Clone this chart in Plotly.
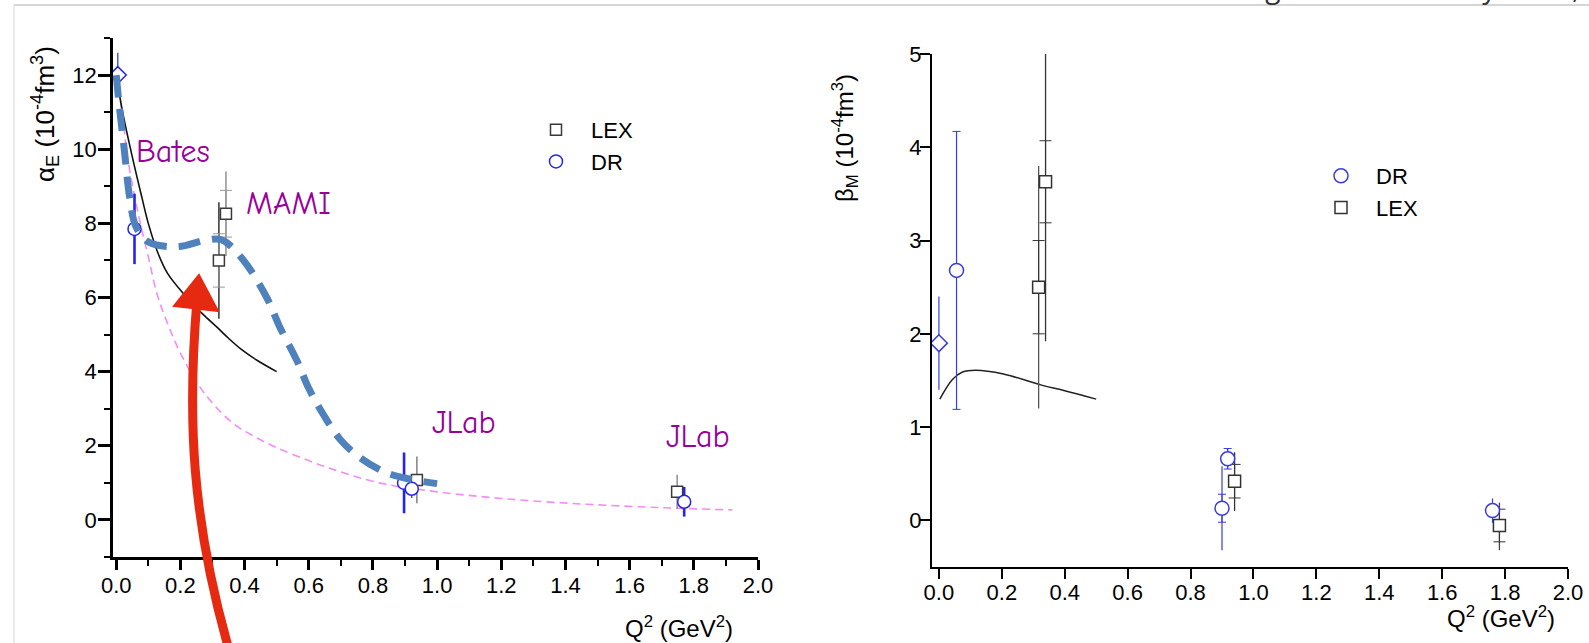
import plotly.graph_objects as go

W, H = 1589, 643

# ---------------- left panel: alpha_E(Q^2) ----------------
# dispersion-relation (DR) extractions
dr_a_q2 = [0.057, 0.897, 0.921, 1.77]
dr_alpha = [7.85, 1.00, 0.84, 0.49]
dr_alpha_err = [0.95, 0.82, 0.25, 0.40]

# low-energy-expansion (LEX) extractions
lex_a_q2 = [0.320, 0.342, 0.937, 1.748]
lex_alpha = [7.00, 8.26, 1.08, 0.76]
lex_alpha_tot = [1.57, 1.14, 0.63, 0.46]
lex_alpha_stat = [0.72, 0.63, 0.0, 0.0]

# real Compton scattering point
rcs_a_q2 = [0.005]
rcs_alpha = [12.0]
rcs_alpha_err = [0.6]

# model curves
curve_a_q2 = [0.0, 0.02, 0.05, 0.08, 0.10, 0.13, 0.16, 0.215, 0.27, 0.314, 0.35, 0.39, 0.44, 0.50]
curve_alpha = [12.0, 11.0, 9.8, 8.7, 8.0, 7.2, 6.65, 6.05, 5.55, 5.2, 4.9, 4.6, 4.3, 4.0]

dipole_q2 = [0.0, 0.02, 0.035, 0.07, 0.10, 0.127, 0.16, 0.20, 0.252, 0.30, 0.365, 0.43, 0.50,
             0.60, 0.68, 0.82, 0.99, 1.20, 1.45, 1.70, 1.92]
dipole_alpha = [12.0, 10.9, 9.8, 8.2, 7.1, 6.1, 5.3, 4.5, 3.7, 3.15, 2.6, 2.25, 1.95,
                1.6, 1.35, 1.0, 0.77, 0.58, 0.43, 0.33, 0.27]

trend_q2 = [0.0, 0.008, 0.025, 0.042, 0.062, 0.10, 0.19, 0.28, 0.33, 0.397, 0.469, 0.51,
            0.563, 0.60, 0.645, 0.70, 0.76, 0.84, 0.916, 1.0]
trend_alpha = [12.0, 11.3, 10.0, 8.7, 7.9, 7.5, 7.37, 7.55, 7.55, 7.0, 6.0, 5.2,
               4.3, 3.55, 2.85, 2.15, 1.68, 1.28, 1.1, 0.98]

# ---------------- right panel: beta_M(Q^2) ----------------
dr_b_q2 = [0.056, 0.900, 0.918, 1.760]
dr_beta = [2.68, 0.13, 0.66, 0.105]
dr_beta_tot = [1.49, 0.45, 0.11, 0.13]
dr_beta_stat = [1.49, 0.15, 0.11, 0.0]

lex_b_q2 = [0.317, 0.339, 0.940, 1.782]
lex_beta = [2.50, 3.63, 0.42, -0.055]
lex_beta_tot_plus = [1.30, 1.37, 0.31, 0.245]
lex_beta_tot_minus = [1.30, 1.71, 0.32, 0.265]
lex_beta_stat = [0.50, 0.44, 0.18, 0.175]

rcs_b_q2 = [0.0]
rcs_beta = [1.90]
rcs_beta_err = [0.5]

curve_b_q2 = [0.003, 0.043, 0.075, 0.116, 0.205, 0.326, 0.40, 0.50]
curve_beta = [1.30, 1.51, 1.59, 1.61, 1.57, 1.45, 1.39, 1.30]

# per-point bar styles
dr_a_bar_width = [2.6, 2.6, 1.2, 2.6]
lex_a_bar_color = ["#222222", "#888888", "#777777", "#888888"]
lex_b_bar_color = ["#555555", "#333333", "#333333", "#444444"]

BLUE = "#2424f0"
BLUE_R = "#3b3be0"
FONT = "Liberation Sans, Arial, sans-serif"

fig = go.Figure()


def bar(x, y, plus, minus, color, thick, cap, xa, ya):
    fig.add_trace(go.Scatter(
        x=[x], y=[y], mode="markers", marker=dict(size=1, opacity=0),
        error_y=dict(type="data", symmetric=False, array=[plus], arrayminus=[minus],
                     color=color, thickness=thick, width=cap),
        xaxis=xa, yaxis=ya, showlegend=False, hoverinfo="skip"))


# --- left curves ---
fig.add_trace(go.Scatter(x=dipole_q2, y=dipole_alpha, mode="lines", line_shape="spline",
                         line=dict(color="#f58cf5", width=1.6, dash="8px,5px"),
                         showlegend=False, xaxis="x", yaxis="y"))
fig.add_trace(go.Scatter(x=curve_a_q2, y=curve_alpha, mode="lines", line_shape="spline",
                         line=dict(color="#111111", width=1.6),
                         showlegend=False, xaxis="x", yaxis="y"))

# --- left error bars ---
for i in range(len(lex_a_q2)):
    bar(lex_a_q2[i], lex_alpha[i], lex_alpha_tot[i], lex_alpha_tot[i],
        lex_a_bar_color[i], 1.4, 0, "x", "y")
    if lex_alpha_stat[i] > 0:
        bar(lex_a_q2[i], lex_alpha[i], lex_alpha_stat[i], lex_alpha_stat[i],
            "#999999", 1.0, 6, "x", "y")
for i in range(len(dr_a_q2)):
    bar(dr_a_q2[i], dr_alpha[i], dr_alpha_err[i], dr_alpha_err[i],
        BLUE, dr_a_bar_width[i], 0, "x", "y")
bar(rcs_a_q2[0], rcs_alpha[0], rcs_alpha_err[0], rcs_alpha_err[0], BLUE, 1.2, 0, "x", "y")

# --- left markers ---
fig.add_trace(go.Scatter(x=lex_a_q2, y=lex_alpha, mode="markers", name="LEX",
                         marker=dict(symbol="square", size=11, color="white",
                                     line=dict(color="#3a3a3a", width=1.5)),
                         xaxis="x", yaxis="y", legend="legend", legendrank=1))
fig.add_trace(go.Scatter(x=dr_a_q2, y=dr_alpha, mode="markers", name="DR",
                         marker=dict(symbol="circle", size=13, color="white",
                                     line=dict(color=BLUE, width=1.5)),
                         xaxis="x", yaxis="y", legend="legend", legendrank=2))
fig.add_trace(go.Scatter(x=rcs_a_q2, y=rcs_alpha, mode="markers", showlegend=False,
                         marker=dict(symbol="diamond", size=13, color="white",
                                     line=dict(color=BLUE, width=1.5)),
                         xaxis="x", yaxis="y"))

# schematic trend through the data
fig.add_trace(go.Scatter(x=trend_q2, y=trend_alpha, mode="lines", line_shape="spline",
                         line=dict(color="#4f81bd", width=7, dash="22px,12px"),
                         showlegend=False, xaxis="x", yaxis="y"))

# --- right curve ---
fig.add_trace(go.Scatter(x=curve_b_q2, y=curve_beta, mode="lines", line_shape="spline",
                         line=dict(color="#222222", width=1.5),
                         showlegend=False, xaxis="x2", yaxis="y2"))

# --- right error bars ---
for i in range(len(lex_b_q2)):
    bar(lex_b_q2[i], lex_beta[i], lex_beta_tot_plus[i], lex_beta_tot_minus[i],
        lex_b_bar_color[i], 1.3, 0, "x2", "y2")
    bar(lex_b_q2[i], lex_beta[i], lex_beta_stat[i], lex_beta_stat[i],
        "#333333", 1.0, 6, "x2", "y2")
for i in range(len(dr_b_q2)):
    bar(dr_b_q2[i], dr_beta[i], dr_beta_tot[i], dr_beta_tot[i], BLUE_R, 1.2, 0, "x2", "y2")
    if dr_beta_stat[i] > 0:
        bar(dr_b_q2[i], dr_beta[i], dr_beta_stat[i], dr_beta_stat[i], BLUE_R, 1.0, 4, "x2", "y2")
bar(rcs_b_q2[0], rcs_beta[0], rcs_beta_err[0], rcs_beta_err[0], BLUE_R, 1.2, 0, "x2", "y2")

# --- right markers ---
fig.add_trace(go.Scatter(x=dr_b_q2, y=dr_beta, mode="markers", name="DR",
                         marker=dict(symbol="circle", size=14, color="white",
                                     line=dict(color=BLUE_R, width=1.5)),
                         xaxis="x2", yaxis="y2", legend="legend2", legendrank=1))
fig.add_trace(go.Scatter(x=lex_b_q2, y=lex_beta, mode="markers", name="LEX",
                         marker=dict(symbol="square", size=12, color="white",
                                     line=dict(color="#333333", width=1.5)),
                         xaxis="x2", yaxis="y2", legend="legend2", legendrank=2))
fig.add_trace(go.Scatter(x=rcs_b_q2, y=rcs_beta, mode="markers", showlegend=False,
                         marker=dict(symbol="diamond", size=13, color="white",
                                     line=dict(color=BLUE_R, width=1.5)),
                         xaxis="x2", yaxis="y2"))


def px(xp, yp):
    return xp / W, 1 - yp / H


def pt(xp, yp):
    a, b = px(xp, yp)
    return f"{a:.5f},{b:.5f}"


def axis(size, **kw):
    d = dict(showline=True, linecolor="black", ticks="outside", tickcolor="black",
             showgrid=False, zeroline=False, automargin=False,
             tickfont=dict(family=FONT, color="black", size=size))
    d.update(kw)
    return d


fig.update_layout(
    width=W, height=H, margin=dict(l=0, r=0, t=0, b=0, autoexpand=False), autosize=False,
    paper_bgcolor="white", plot_bgcolor="white",
    xaxis=axis(22, domain=[113 / W, 758 / W], range=[-0.01, 2.0], anchor="y",
               tick0=0, dtick=0.2, tickformat=".1f", ticklen=10, tickwidth=2.5, linewidth=2.5,
               ticklabelstandoff=-3,
               minor=dict(dtick=0.1, ticklen=6, tickwidth=2, ticks="outside", tickcolor="black")),
    yaxis=axis(22, domain=[1 - 557 / H, 1 - 38 / H], range=[-1, 13], anchor="x",
               tick0=0, dtick=2, ticklen=12, tickwidth=2.5, linewidth=2.5,
               ticklabelstandoff=-3,
               minor=dict(dtick=1, ticklen=6, tickwidth=2, ticks="outside", tickcolor="black")),
    xaxis2=axis(22, domain=[932 / W, 1568 / W], range=[-0.022, 2.0], anchor="y2",
                tick0=0, dtick=0.2, tickformat=".1f", ticklen=10, tickwidth=2, linewidth=2,
                ticklabelstandoff=-5),
    yaxis2=axis(22, domain=[1 - 567 / H, 1 - 54 / H], range=[-0.5, 5], anchor="x2",
                tick0=0, dtick=1, ticklen=10, tickwidth=2, linewidth=2,
                ticklabelstandoff=-6),
    legend=dict(x=521 / W, y=1 - 109 / H, xanchor="left", yanchor="top", itemwidth=60,
                font=dict(family=FONT, size=22, color="black"), bgcolor="rgba(0,0,0,0)",
                tracegroupgap=0),
    legend2=dict(x=1306 / W, y=1 - 155 / H, xanchor="left", yanchor="top", itemwidth=60,
                 font=dict(family=FONT, size=22, color="black"), bgcolor="rgba(0,0,0,0)",
                 tracegroupgap=0),
)

ann = []


def label(text, xp, yp, size, color="black", family=FONT, angle=0, xanchor="center"):
    a, b = px(xp, yp)
    ann.append(dict(text=text, x=a, y=b, xref="paper", yref="paper", showarrow=False,
                    xanchor=xanchor, yanchor="middle", textangle=angle,
                    font=dict(family=family, size=size, color=color)))


label("α<sub>E</sub> (10<sup>-4</sup>fm<sup>3</sup>)", 45, 114, 26, angle=-90)
label("β<sub>M</sub> (10<sup>-4</sup>fm<sup>3</sup>)", 845, 138, 24, angle=-90)
label("Q<sup>2</sup> (GeV<sup>2</sup>)", 679, 627, 24)
label("Q<sup>2</sup> (GeV<sup>2</sup>)", 1501, 617, 24)

COMIC = "Comic Sans MS, Comic Neue, DejaVu Sans"
PURPLE = "#990099"
label("Bates", 173, 151, 32, PURPLE, COMIC)
label("MAMI", 288, 203, 32, PURPLE, COMIC)
label("JLab", 464, 422, 32, PURPLE, COMIC)
label("JLab", 698, 436, 32, PURPLE, COMIC)

# journal reference running off the top edge
label("Progr. Part. Nucl. Phys. 113,", 1582, -13, 28, "#333333", "Open Sans, sans-serif",
      xanchor="right")

fig.update_layout(annotations=ann)

RED = "#e62a12"
fig.update_layout(shapes=[
    dict(type="line", xref="paper", yref="paper",
         x0=14 / W, y0=1 - 5 / H, x1=1.0, y1=1 - 5 / H, line=dict(color="#c8c8c8", width=1.5)),
    dict(type="line", xref="paper", yref="paper",
         x0=14 / W, y0=1 - 5 / H, x1=14 / W, y1=0, line=dict(color="#e4e4e4", width=1.5)),
    dict(type="path", xref="paper", yref="paper", layer="above",
         path=f"M {pt(197, 300)} C {pt(187, 420)} {pt(192, 520)} {pt(229, 650)}",
         line=dict(color=RED, width=9)),
    dict(type="path", xref="paper", yref="paper", layer="above",
         path=f"M {pt(199, 275)} L {pt(174, 306)} L {pt(218, 311)} Z",
         fillcolor=RED, line=dict(color=RED, width=2)),
])

fig.write_html("out.html")
